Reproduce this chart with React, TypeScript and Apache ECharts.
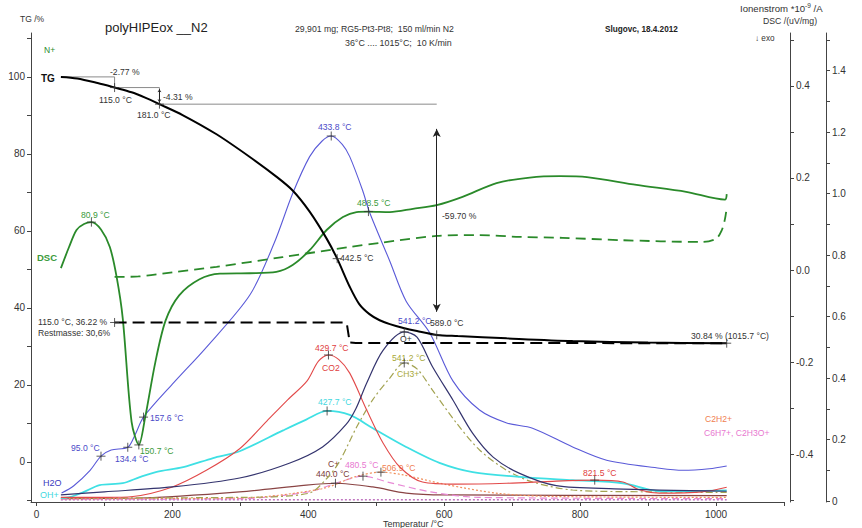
import { useEffect, useRef } from "react";
import * as echarts from "echarts";

// TG mass curve: [temperature °C, mass %]
const tgMass: number[][] = [
  [36, 100], [60, 99.6], [90, 98.4], [115, 97.23], [140, 96.0], [160, 94.6], [181, 92.92],
  [215, 90.1], [265, 85.1], [314, 79.2], [353, 74.1], [377, 70.5], [402, 65.0], [427, 58.0],
  [442.5, 52.8], [461, 45.5], [475, 41.0], [490, 38.4], [505, 36.8], [520, 35.8], [540, 34.8],
  [560, 34.0], [589, 33.0], [620, 32.7], [692, 32.1], [789, 31.4], [900, 31.0], [1015.7, 30.84],
];
// residual-mass step line
const tgResidual: number[][] = [
  [115, 36.22], [454, 36.22], [457, 35.6], [461, 31.0], [470, 30.9], [1015.7, 30.84],
];
// mass-loss step construction (%)
const tgSteps: number[][] = [
  [36, 100], [115, 100], [115, 97.23], [181, 97.23], [181, 92.92], [589, 92.92],
];
// DSC /(uV/mg)
const dscSignal: number[][] = [
  [36, 0.004], [48, 0.05], [59, 0.087], [70, 0.1], [80.9, 0.104], [95, 0.088], [108, 0.05],
  [118, -0.015], [127, -0.105], [140, -0.33], [150.7, -0.38], [160, -0.32], [175, -0.2],
  [190, -0.11], [210, -0.055], [240, -0.02], [270, -0.008], [314, -0.007], [353, -0.004],
  [377, 0.011], [402, 0.043], [427, 0.087], [451, 0.115], [471, 0.126], [488.5, 0.127],
  [520, 0.126], [554, 0.133], [589, 0.141], [627, 0.159], [677, 0.189], [726, 0.201],
  [770, 0.204], [810, 0.202], [883, 0.185], [956, 0.17], [1013, 0.153], [1015.7, 0.165],
];
const dscBaseline: number[][] = [
  [115, -0.015], [150, -0.014], [200, -0.005], [265, 0.007], [362, 0.028], [461, 0.05],
  [505, 0.059], [589, 0.074], [652, 0.076], [711, 0.072], [774, 0.07], [858, 0.065],
  [980, 0.061], [1000, 0.068], [1008, 0.085], [1013, 0.11], [1015.7, 0.135],
];
// Ion currents *10^-9 A
const ionH2O: number[][] = [
  [37, 0.026], [55, 0.05], [79, 0.1], [95, 0.146], [110, 0.166], [134.4, 0.175], [145, 0.215],
  [157.6, 0.273], [200, 0.38], [250, 0.5], [314, 0.67], [350, 0.84], [377, 1.0], [402, 1.12],
  [420, 1.17], [433.8, 1.187], [450, 1.16], [461, 1.12], [480, 1.01], [490, 0.94], [520, 0.78],
  [544, 0.65], [579, 0.546], [613, 0.39], [652, 0.296], [692, 0.254], [730, 0.237],
  [789, 0.176], [839, 0.133], [917, 0.107], [951, 0.1], [990, 0.105], [1015.7, 0.114],
];
const ionO: number[][] = [
  [36, 0.02], [100, 0.03], [200, 0.046], [299, 0.075], [373, 0.124], [421, 0.176], [456, 0.25],
  [470, 0.3], [486, 0.384], [510, 0.49], [541.2, 0.55], [560, 0.533], [583, 0.436],
  [613, 0.328], [642, 0.22], [672, 0.143], [711, 0.09], [765, 0.05], [850, 0.04], [1015.7, 0.032],
];
const ionCO2: number[][] = [
  [36, 0.012], [100, 0.012], [142, 0.015], [200, 0.046], [250, 0.1], [299, 0.17], [339, 0.26],
  [370, 0.33], [398, 0.39], [415, 0.455], [429.7, 0.475], [445, 0.46], [461, 0.416],
  [486, 0.296], [510, 0.189], [535, 0.11], [568, 0.062], [617, 0.055], [692, 0.058],
  [765, 0.065], [821.5, 0.068], [863, 0.062], [888, 0.036], [917, 0.026], [980, 0.03], [1015.7, 0.045],
];
const ionOH: number[][] = [
  [36, 0.01], [49, 0.013], [70, 0.03], [93, 0.052], [127, 0.058], [152, 0.078], [177, 0.095],
  [216, 0.11], [260, 0.14], [299, 0.162], [363, 0.23], [397, 0.265], [427.7, 0.293],
  [461, 0.28], [495, 0.237], [544, 0.176], [593, 0.124], [642, 0.094], [716, 0.078],
  [789, 0.068], [863, 0.058], [917, 0.032], [1015.7, 0.035],
];
const ionCH3: number[][] = [
  [36, 0.01], [300, 0.012], [400, 0.025], [430, 0.08], [447, 0.133], [471, 0.24], [495, 0.33],
  [520, 0.4], [541.2, 0.449], [560, 0.43], [583, 0.36], [618, 0.254], [652, 0.166],
  [692, 0.1], [730, 0.062], [789, 0.036], [900, 0.03], [1015.7, 0.028],
];
const ionC: number[][] = [
  [36, 0.008], [152, 0.01], [299, 0.03], [397, 0.052], [440, 0.058], [495, 0.046],
  [544, 0.026], [600, 0.02], [1015.7, 0.018],
];
const ionC6H7: number[][] = [
  [36, 0.006], [300, 0.008], [400, 0.03], [450, 0.065], [480.5, 0.081], [520, 0.06],
  [580, 0.03], [650, 0.012], [1015.7, 0.008],
];
const ionC2H2: number[][] = [
  [36, 0.008], [300, 0.01], [420, 0.04], [470, 0.08], [506.9, 0.094], [540, 0.085],
  [600, 0.055], [680, 0.025], [760, 0.015], [1015.7, 0.012],
];
const ionN: number[][] = [[36, 0.004], [1015.7, 0.004]];

// picked peaks / evaluation points (temperatures)
const tgPicks = [115, 181, 442.5, 589, 1015.7];
const dscPicks = [80.9, 150.7, 488.5];
const h2oPicks = [95, 134.4, 157.6, 433.8];

// axis tick positions
const xTicks = [0, 100, 200, 300, 400, 500, 600, 700, 800, 900, 1000, 1100];
const xLabels = [0, 200, 400, 600, 800, 1000];
const tgTicks = [-10, 0, 10, 20, 30, 40, 50, 60, 70, 80, 90, 100, 110];
const tgLabels = [0, 20, 40, 60, 80, 100];
const dscTicks = [-0.5, -0.4, -0.3, -0.2, -0.1, 0, 0.1, 0.2, 0.3, 0.4, 0.5];
const dscLabels = [-0.4, -0.2, 0, 0.2, 0.4];
const ionTicks = [0, 0.1, 0.2, 0.3, 0.4, 0.5, 0.6, 0.7, 0.8, 0.9, 1.0, 1.1, 1.2, 1.3, 1.4, 1.5];
const ionLabels = [0, 0.2, 0.4, 0.6, 0.8, 1.0, 1.2, 1.4];

const FONT = "Liberation Sans, Arial, sans-serif";
const C = {
  tg: "#000000",
  dsc: "#2a8a2a",
  h2o: "#5a5ad8",
  o: "#34346e",
  co2: "#e24a4a",
  oh: "#3fe0e4",
  ch3: "#a3a352",
  c: "#8a4444",
  c6h7: "#e88ad6",
  c2h2: "#f0905c",
  n: "#a030a0",
};

const at = (s: number[][], t: number) => {
  const p = s.find((q) => q[0] === t);
  return p ? p[1] : NaN;
};

const plus = "path://M5,0L5,10M0,5L10,5";

function curve(name: string, data: number[][], axis: number, color: string, width: number, type: any = "solid", z = 2) {
  return {
    name,
    type: "line",
    yAxisIndex: axis,
    data,
    showSymbol: false,
    smooth: 0.3,
    lineStyle: { color, width, type },
    z,
    silent: true,
  };
}

function marks(points: number[][], axis: number) {
  return {
    type: "scatter",
    yAxisIndex: axis,
    data: points,
    symbol: plus,
    symbolSize: 9,
    itemStyle: { color: "rgba(0,0,0,0)", borderColor: "#333", borderWidth: 1 },
    z: 10,
    silent: true,
  };
}

function txt(x: number, y: number, text: string, fill = "#333", size = 8.6, bold = false) {
  return {
    type: "text",
    x,
    y,
    silent: true,
    style: {
      text,
      fill,
      font: `${bold ? "bold " : ""}${size}px ${FONT}`,
      verticalAlign: "middle",
    },
  };
}

function yAxisBase(min: number, max: number, ticks: number[], labels: number[], fmt: (v: number) => string) {
  return {
    type: "value",
    min,
    max,
    splitLine: { show: false },
    axisLine: { show: true, onZero: false, lineStyle: { color: "#444", width: 1 } },
    axisTick: { show: true, customValues: ticks, length: 4, lineStyle: { color: "#444" } },
    axisLabel: {
      show: true,
      customValues: labels,
      formatter: fmt,
      color: "#333",
      fontSize: 10,
      fontFamily: FONT,
      margin: 6,
    },
  };
}

export default function App() {
  const ref = useRef<HTMLDivElement>(null);

  useEffect(() => {
    if (!ref.current) return;
    const chart = echarts.init(ref.current, undefined, { renderer: "svg" });

    const ionMarks = [
      ...h2oPicks.map((t) => [t, at(ionH2O, t)]),
      [541.2, at(ionO, 541.2)],
      [429.7, at(ionCO2, 429.7)],
      [821.5, at(ionCO2, 821.5)],
      [427.7, at(ionOH, 427.7)],
      [541.2, at(ionCH3, 541.2)],
      [440, at(ionC, 440)],
      [480.5, at(ionC6H7, 480.5)],
      [506.9, at(ionC2H2, 506.9)],
    ];

    chart.setOption({
      animation: false,
      backgroundColor: "#ffffff",
      textStyle: { fontFamily: FONT },
      grid: { left: 31, right: 78, top: 33, bottom: 26, containLabel: false, outerBoundsMode: "none" },
      xAxis: {
        type: "value",
        min: -8,
        max: 1100,
        splitLine: { show: false },
        axisLine: { show: true, onZero: false, lineStyle: { color: "#444" } },
        axisTick: { show: true, customValues: xTicks, length: 4, lineStyle: { color: "#444" } },
        axisLabel: {
          customValues: xLabels,
          formatter: (v: number) => String(v),
          color: "#333",
          fontSize: 10,
          fontFamily: FONT,
          margin: 7,
        },
      },
      yAxis: [
        { ...yAxisBase(-10.4, 111.4, tgTicks, tgLabels, (v) => String(v)), position: "left" },
        {
          ...yAxisBase(-0.504, 0.515, dscTicks, dscLabels, (v) => v.toFixed(1)),
          position: "right",
          offset: 6,
        },
        {
          ...yAxisBase(-0.003, 1.522, ionTicks, ionLabels, (v) => (v === 0 ? "0" : v.toFixed(1))),
          position: "right",
          offset: 42,
        },
      ],
      series: [
        { ...curve("", ionN, 2, C.n, 1, [2, 2], 1), smooth: false },
        curve("C+", ionC, 2, C.c, 1.2),
        curve("C6H7+, C2H3O+", ionC6H7, 2, C.c6h7, 1.2, [7, 4]),
        curve("C2H2+", ionC2H2, 2, C.c2h2, 1.2, [2, 2]),
        curve("CH3+", ionCH3, 2, C.ch3, 1.2, [7, 3, 2, 3]),
        curve("OH+", ionOH, 2, C.oh, 1.8),
        curve("CO2", ionCO2, 2, C.co2, 1.1),
        curve("O+", ionO, 2, C.o, 1.2),
        curve("H2O", ionH2O, 2, C.h2o, 1.1),
        curve("DSC", dscSignal, 1, C.dsc, 1.8, "solid", 3),
        curve("DSC baseline", dscBaseline, 1, C.dsc, 1.8, [10, 6], 3),
        {
          type: "line",
          yAxisIndex: 0,
          data: tgSteps,
          showSymbol: false,
          lineStyle: { color: "#8a8a8a", width: 1 },
          z: 3,
          silent: true,
          markLine: {
            silent: true,
            symbol: ["arrow", "arrow"],
            symbolSize: [6, 8],
            label: { show: false },
            lineStyle: { color: "#222", width: 1, type: "solid" },
            data: [
              [{ coord: [589, 86.5] }, { coord: [589, 39] }],
              [
                { coord: [181, 96.8], symbolSize: [3, 3] },
                { coord: [181, 93.4], symbolSize: [3, 3] },
              ],
            ],
          },
        },
        { ...curve("Restmasse", tgResidual, 0, C.tg, 2, [12, 6], 4), smooth: false },
        curve("TG", tgMass, 0, C.tg, 2, "solid", 5),
        marks([...tgPicks.map((t) => [t, at(tgMass, t)]), [115, at(tgResidual, 115)]], 0),
        marks(dscPicks.map((t) => [t, at(dscSignal, t)]), 1),
        marks(ionMarks, 2),
      ],
      graphic: [
        txt(20, 19, "TG /%", "#333", 8.5),
        txt(105, 27, "polyHIPEox __N2", "#222", 13),
        txt(295, 29, "29,901 mg; RG5-Pt3-Pt8;  150 ml/min N2", "#333", 8.7),
        txt(345, 43, "36°C .... 1015°C;  10 K/min", "#333", 8.9),
        txt(605, 29, "Slugovc, 18.4.2012", "#222", 8.2, true),
        {
          type: "text",
          x: 740,
          y: 8,
          silent: true,
          style: {
            text: "Ionenstrom *10{s|-9} /A",
            fill: "#333",
            font: `9.6px ${FONT}`,
            verticalAlign: "middle",
            rich: { s: { fontSize: 6.5, verticalAlign: "top", fill: "#333", padding: [0, 0, 6, 0] } },
          },
        },
        txt(763, 21, "DSC /(uV/mg)", "#333", 8.7),
        txt(755, 38, "↓ exo", "#333", 8.2),
        txt(44, 50, "N+", C.dsc, 8.5),
        txt(41, 78, "TG", "#111", 10, true),
        txt(110, 72, "-2.77 %"),
        txt(99, 100, "115.0 °C"),
        txt(163, 97, "-4.31 %"),
        txt(137, 115, "181.0 °C"),
        txt(318, 127, "433.8 °C", "#4a4ac8"),
        txt(81, 215, "80.9 °C", "#3a9a3a"),
        txt(37, 257, "DSC", "#3a9a3a", 9.5, true),
        txt(357, 203, "488.5 °C", "#3a9a3a"),
        txt(442, 216, "-59.70 %"),
        txt(340, 258, "442.5 °C"),
        txt(38, 322, "115.0 °C, 36.22 %"),
        txt(38, 333, "Restmasse: 30,6%"),
        txt(398, 321, "541.2 °C", "#4a4ac8"),
        txt(430, 323, "589.0 °C"),
        txt(400, 339, "O+"),
        txt(691, 336, "30.84 % (1015.7 °C)"),
        txt(315, 348, "429.7 °C", "#e04040"),
        txt(322, 368, "CO2", "#e04040"),
        txt(392, 358, "541.2 °C", "#a8a838"),
        txt(397, 374, "CH3+", "#a8a838"),
        txt(318, 402, "427.7 °C", "#3fd8e0"),
        txt(150, 418, "157.6 °C", "#4a4ac8"),
        txt(705, 419, "C2H2+", "#f08050"),
        txt(704, 433, "C6H7+, C2H3O+", "#e878d0"),
        txt(71, 448, "95.0 °C", "#4a4ac8"),
        txt(140, 451, "150.7 °C", "#3a9a3a"),
        txt(115, 459, "134.4 °C", "#4a4ac8"),
        txt(328, 464, "C+", "#7a3a3a"),
        txt(345, 465, "480.5 °C", "#e878d0"),
        txt(382, 468, "506.9 °C", "#f08050"),
        txt(316, 474, "440.0 °C", "#7a3a3a"),
        txt(583, 473, "821.5 °C", "#e04040"),
        txt(43, 483, "H2O", "#3a3ac0", 9),
        txt(40, 495, "OH+", "#3fd8e0", 9),
        txt(383, 524, "Temperatur /°C", "#333", 9),
      ],
    });

    return () => chart.dispose();
  }, []);

  return (
    <div
      ref={ref}
      style={{ position: "fixed", left: 0, top: 0, width: 862, height: 528, background: "#fff" }}
    />
  );
}
